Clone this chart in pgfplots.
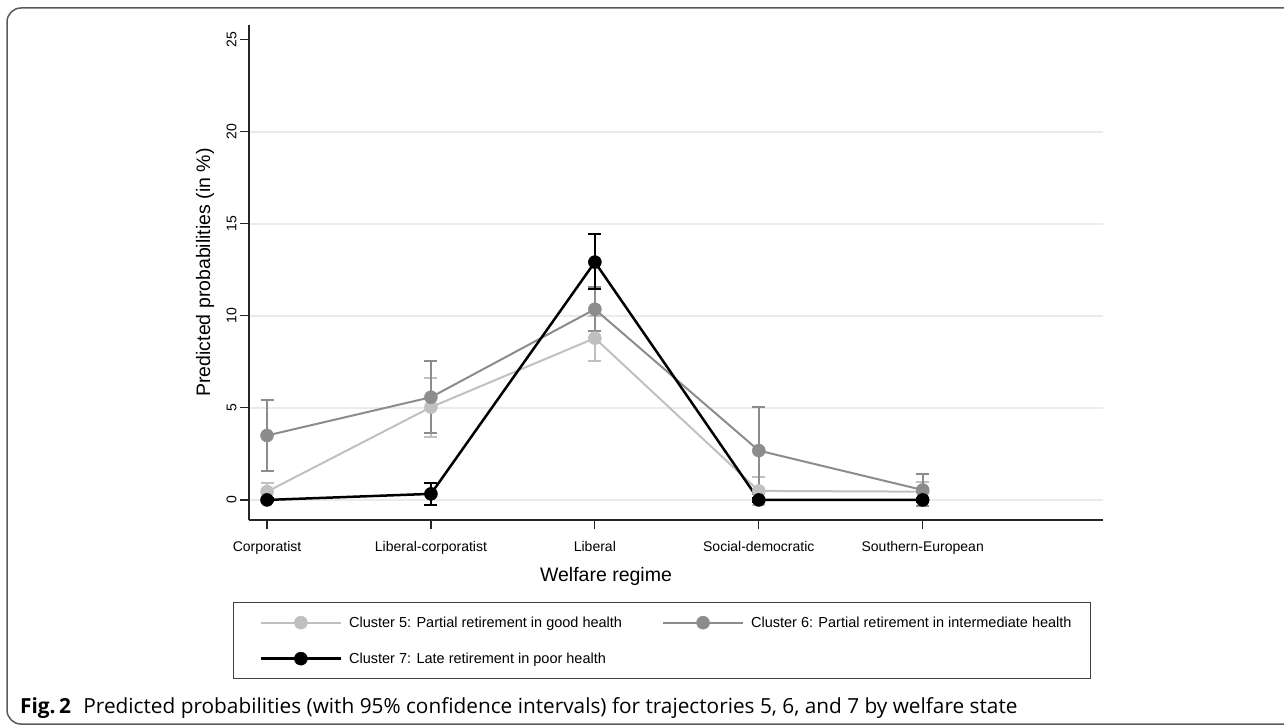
\documentclass[border=0pt]{standalone}
\usepackage{pgfplots}
\pgfplotsset{compat=1.18}
\usepackage{fontspec}
\setmainfont{Liberation Sans}
\newfontfamily\capfont{Open Sans}
\definecolor{cfive}{HTML}{C0C0C0}
\definecolor{csix}{HTML}{8C8C8C}
\definecolor{gridc}{HTML}{EBEBEB}
\definecolor{framec}{HTML}{5A5A5A}
\begin{document}
\begin{tikzpicture}[x=1pt,y=1pt]
\path[use as bounding box] (0,0) rectangle (1284,726);
\draw[framec, line width=1.5pt, rounded corners=14pt] (7,2) rectangle (1330,718);
\begin{axis}[
  at={(249pt,206pt)}, anchor=south west,
  scale only axis, width=854pt, height=495pt,
  xmin=-0.11, xmax=5.1, ymin=-1.09, ymax=25.8,
  axis x line*=bottom, axis y line*=left,
  axis line style={line width=1.2pt, black!85, -},
  xtick={0,1,2,3,4},
  xticklabels={Corporatist,Liberal-corporatist,Liberal,Social-democratic,Southern-European},
  ytick={0,5,10,15,20}, extra y ticks={25}, extra y tick style={grid=none},
  ymajorgrids, grid style={gridc, line width=1.5pt},
  tick align=outside, major tick length=9pt,
  tick style={black!85, line width=1.2pt},
  /pgf/number format/assume math mode=true,
  ticklabel style={font=\fontsize{14}{16}\selectfont},
  xticklabel style={yshift=-9pt},
  yticklabel style={rotate=90, anchor=south},
  xlabel={Welfare regime}, ylabel={Predicted probabilities (in \%)},
  label style={font=\fontsize{19.5}{22}\selectfont},
  xlabel style={at={(axis description cs:0.418,-0.115)}, anchor=center},
  ylabel style={at={(axis description cs:-0.0515,0.5)}, anchor=center},
  legend columns=2,
  legend cell align=left,
  legend style={at={(axis description cs:-0.0187,-0.1657)}, anchor=north west,
    draw=black!75, line width=1.2pt, font=\fontsize{14.5}{17}\selectfont,
    inner xsep=17pt, inner ysep=12pt, row sep=20pt,
    /tikz/every odd column/.append style={column sep=5pt},
    /tikz/every even column/.append style={column sep=29pt}},
  legend image code/.code={\path (-9pt,0pt); \draw[mark repeat=2, mark phase=2, #1] plot coordinates {(0pt,0pt)(40pt,0pt)(80pt,0pt)};},
]
% confidence intervals
\addplot[forget plot, only marks, mark=none,
  error bars/.cd, y dir=both, y explicit,
  error bar style={cfive, line width=2pt},
  error mark options={cfive, mark size=6.5pt, line width=2pt, rotate=90}]
  coordinates {(0,0.45) +- (0,0.49) (1,5.03) +- (0,1.62) (2,8.79) +- (0,1.22) (3,0.49) +- (0,0.74) (4,0.45) +- (0,0.5)};
\addplot[forget plot, only marks, mark=none,
  error bars/.cd, y dir=both, y explicit,
  error bar style={csix, line width=2pt},
  error mark options={csix, mark size=6.5pt, line width=2pt, rotate=90}]
  coordinates {(0,3.50) +- (0,1.95) (1,5.59) +- (0,1.98) (2,10.36) +- (0,1.20) (3,2.68) +- (0,2.36) (4,0.54) +- (0,0.87)};
\addplot[forget plot, only marks, mark=none,
  error bars/.cd, y dir=both, y explicit,
  error bar style={black, line width=2pt},
  error mark options={black, mark size=6.5pt, line width=2pt, rotate=90}]
  coordinates {(0,0) +- (0,0.08) (1,0.33) +- (0,0.58) (2,12.95) +- (0,1.49) (3,0) +- (0,0.1) (4,0) +- (0,0.1)};
% point estimates
\addplot[cfive, line width=2pt, mark=*, mark size=6.5pt, mark options={fill=cfive, draw=cfive, line width=0.5pt}]
  coordinates {(0,0.45) (1,5.04) (2,8.79) (3,0.49) (4,0.45)};
\addlegendentry{Cluster 5: Partial retirement in good health}
\addplot[csix, line width=2pt, mark=*, mark size=6.5pt, mark options={fill=csix, draw=csix, line width=0.5pt}]
  coordinates {(0,3.50) (1,5.58) (2,10.36) (3,2.68) (4,0.54)};
\addlegendentry{Cluster 6: Partial retirement in intermediate health}
\addplot[black, line width=2.5pt, mark=*, mark size=6.5pt, mark options={fill=black, draw=black, line width=0.5pt}]
  coordinates {(0,0) (1,0.33) (2,12.92) (3,0) (4,0)};
\addlegendentry{Cluster 7: Late retirement in poor health}
\end{axis}
\node[anchor=base west, inner sep=0pt] at (20,13) {\capfont\fontsize{20.8}{24}\selectfont\textbf{Fig.\,2}\hspace{0.6em}Predicted probabilities (with 95\% confidence intervals) for trajectories 5, 6, and 7 by welfare state};
\end{tikzpicture}
\end{document}
